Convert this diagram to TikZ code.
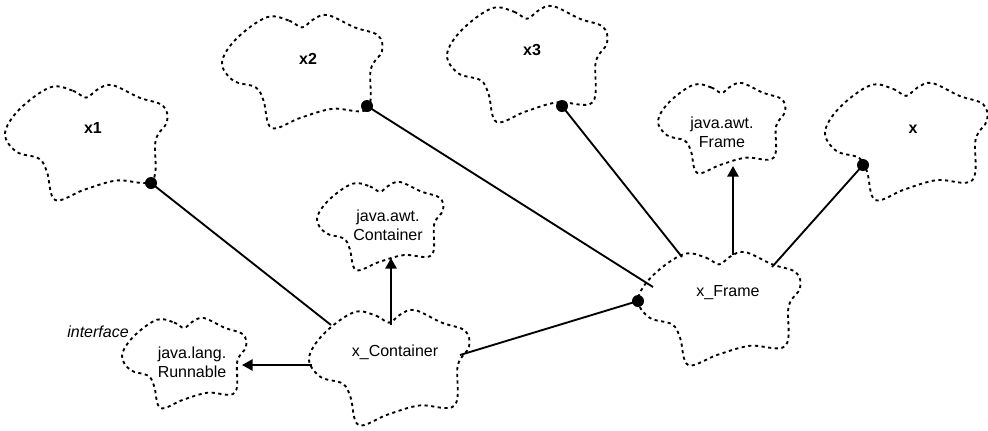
\documentclass[tikz,border=0pt]{standalone}
\usepackage{fontspec}
\setmainfont{Liberation Sans}
\usetikzlibrary{arrows.meta}

% one cloud outline, fitted into the box with top-left corner (#1,#2), width #3, height #4
\newcommand{\boochcloud}[4]{%
  \draw[cloudline, shift={(#1,#2)}, xscale=#3, yscale=#4]
    plot[smooth cycle, tension=0.6] coordinates {
      (.28,.02) (.42,.05) (.50,.11) (.57,.04) (.66,0) (.83,.11) (.975,.18) (1,.32) (.93,.48)
      (.91,.83) (.69,.83) (.49,.91) (.31,1) (.26,.76) (.21,.64) (.07,.58)
      (0,.42) (.09,.21)};}

\tikzset{
  cloudline/.style={line width=1.4pt, dash pattern=on 2.4pt off 2.6pt},
  link/.style={line width=1.4pt},
  inherit/.style={link, -{Triangle[length=8pt,width=8.5pt]}},
  dotmark/.style={circle, fill, inner sep=0pt, minimum size=9pt},
  txt/.style={font=\fontsize{12}{14.5}\selectfont, align=center, inner sep=0pt},
  objtxt/.style={txt, font=\fontsize{12}{14.5}\selectfont\bfseries},
}

\begin{document}
\begin{tikzpicture}[x=0.75pt, y=-0.75pt]
\useasboundingbox (0,0) rectangle (988,430);

% cloud outlines
\boochcloud{5}{85}{162}{115}      % x1
\boochcloud{222}{15}{160}{113}    % x2
\boochcloud{447}{6}{160}{116}     % x3
\boochcloud{658}{83}{127}{90}     % java.awt.Frame
\boochcloud{825}{83}{162}{117}    % x
\boochcloud{317}{182}{126}{88}    % java.awt.Container
\boochcloud{309}{310}{160}{115}   % x_Container
\boochcloud{122}{318}{124}{90}    % java.lang.Runnable
\boochcloud{638}{252}{162}{113}   % x_Frame

% class names
\node[objtxt] (x1) at (93,128) {x1};
\node[objtxt] (x2) at (308,59) {x2};
\node[objtxt] (x3) at (532,50) {x3};
\node[objtxt] (x) at (913,129) {x};
\node[txt] (jframe) at (722,132) {java.awt.\\Frame};
\node[txt] (jcont) at (388,225) {java.awt.\\Container};
\node[txt] (xcont) at (395,352) {x\_Container};
\node[txt] (runnable) at (192,362) {java.lang.\\Runnable};
\node[txt] (xframe) at (728,293) {x\_Frame};
\node[txt, font=\fontsize{12}{14.5}\selectfont\itshape] (iface) at (98,332) {interface};

% points on the cloud outlines where links attach
\coordinate (xc-top) at (391,325);
\coordinate (xc-left) at (312,365);
\coordinate (xc-right) at (460,355);
\coordinate (xc-nw) at (331,325);
\coordinate (jc-bot) at (391,258);
\coordinate (rn-right) at (242,365);
\coordinate (xf-w) at (653,287);
\coordinate (xf-n) at (682,257);
\coordinate (xf-top) at (733,255);
\coordinate (xf-ne) at (772,267);
\coordinate (jf-bot) at (733,166);

% association dots
\node[dotmark] (d1) at (151,183) {};
\node[dotmark] (d2) at (367,106) {};
\node[dotmark] (d3) at (562,106) {};
\node[dotmark] (dx) at (863,165) {};
\node[dotmark] (dxf) at (638,301) {};

% associations
\draw[link] (d1.center) -- (xc-nw);
\draw[link] (d2.center) -- (xf-w);
\draw[link] (d3.center) -- (xf-n);
\draw[link] (dx.center) -- (xf-ne);
\draw[link] (xc-right) -- (dxf.center);

% inheritance
\draw[inherit] (xc-top) -- (jc-bot);
\draw[inherit] (xc-left) -- (rn-right);
\draw[inherit] (xf-top) -- (jf-bot);
\end{tikzpicture}
\end{document}
